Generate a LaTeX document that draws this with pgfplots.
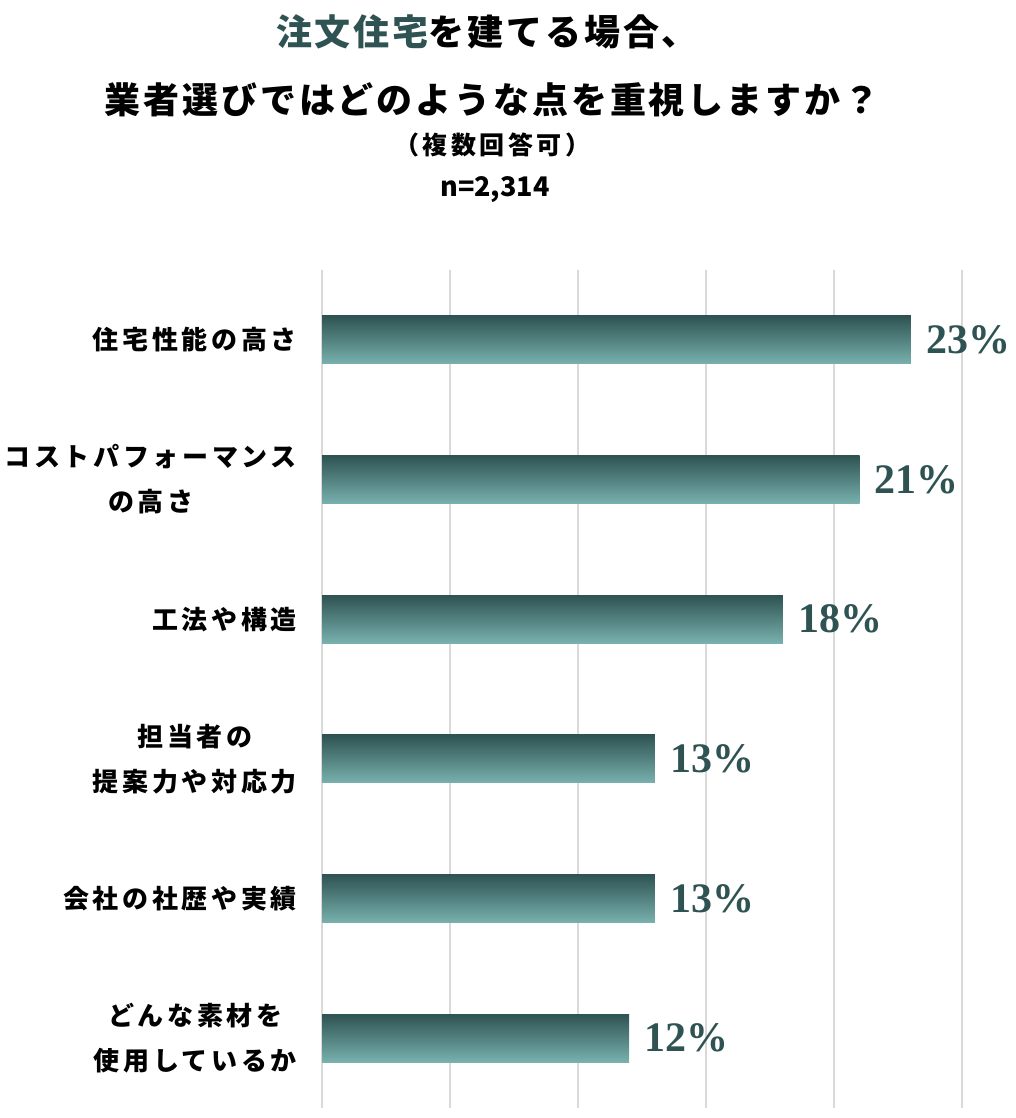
\documentclass[border=0pt]{standalone}
\usepackage{pgfplots}
\pgfplotsset{compat=1.18}
\usepackage{fontspec}
\setmainfont{Noto Sans CJK JP}
\newfontfamily\valfont{Liberation Serif}
\newfontfamily\lblfont{Noto Sans CJK JP}[LetterSpace=14]
\newfontfamily\ttlfont{Noto Sans CJK JP}[LetterSpace=8]
\newfontfamily\subfont{Noto Sans CJK JP}[LetterSpace=14]
\definecolor{tealdark}{HTML}{2E5352}
\definecolor{tealmid}{HTML}{467B78}
\definecolor{teallight}{HTML}{78B1AE}
\definecolor{gridgray}{HTML}{D9D9D9}
\begin{document}
\begin{tikzpicture}[x=1pt,y=1pt]
\path (0,0) rectangle (1016,-1118);
% titles
\node[font=\ttlfont\fontsize{36}{40}\selectfont\bfseries, anchor=center] at (487,-32) {{\color{tealdark}注文住宅}を建てる場合、};
\node[font=\ttlfont\fontsize{36}{40}\selectfont\bfseries, anchor=center] at (492,-100) {業者選びではどのような点を重視しますか？};
\node[font=\subfont\fontsize{25}{28}\selectfont\bfseries, anchor=center] at (492,-145) {（複数回答可）};
\node[font=\fontsize{27}{30}\selectfont\bfseries, anchor=center] at (495,-190) {n=2,314};
\begin{axis}[
  at={(322pt,-1108pt)}, anchor=south west,
  scale only axis, width=640pt, height=838pt,
  xmin=0, xmax=25, ymin=-0.5, ymax=5.5,
  y dir=reverse,
  xbar, bar width=48pt, bar shift=0pt,
  xtick={0,5,10,15,20,25}, xticklabels={},
  xmajorgrids, grid style={draw=gridgray, line width=1.5pt},
  ytick={0,1,2,3,4,5},
  yticklabels={{住宅性能の高さ},{コストパフォーマンス\\の高さ},{工法や構造},{担当者の\\提案力や対応力},{会社の社歴や実績},{どんな素材を\\使用しているか}},
  yticklabel style={align=center, anchor=east, inner sep=0pt, xshift=-25pt,
    font=\lblfont\fontsize{26}{45}\selectfont\bfseries},
  axis line style={draw=none},
  major tick length=0pt,
  /pgf/number format/assume math mode=true,
  nodes near coords={\pgfmathprintnumber{\pgfplotspointmeta}\%},
  nodes near coords align={horizontal},
  every node near coord/.append style={font=\valfont\fontsize{42}{46}\selectfont\bfseries, color=tealdark, inner sep=0pt, xshift=15pt},
  barstyle/.style={draw=none, top color=tealdark, middle color=tealmid, bottom color=teallight},
]
\addplot[barstyle] coordinates {(23,0)};
\addplot[barstyle] coordinates {(21,1)};
\addplot[barstyle] coordinates {(18,2)};
\addplot[barstyle] coordinates {(13,3)};
\addplot[barstyle] coordinates {(13,4)};
\addplot[barstyle] coordinates {(12,5)};
\end{axis}
\end{tikzpicture}
\end{document}
